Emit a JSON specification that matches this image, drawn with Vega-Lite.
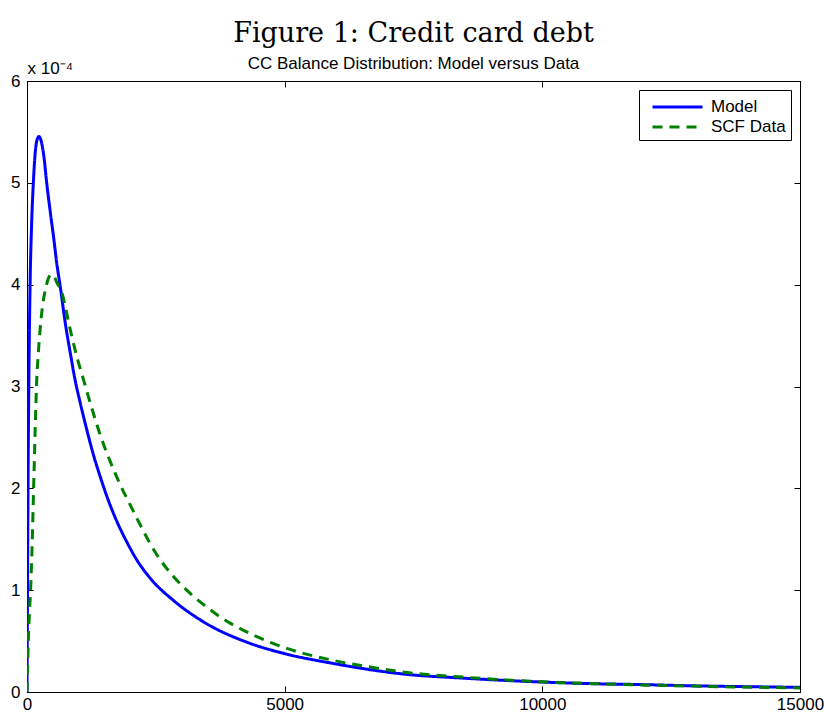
{
  "$schema": "https://vega.github.io/schema/vega-lite/v6.json",
  "width": 773,
  "height": 611,
  "autosize": {"type": "none"},
  "padding": {"left": 27, "top": 81, "right": 24, "bottom": 20},
  "background": "white",
  "title": {
    "text": "Figure 1: Credit card debt",
    "subtitle": "CC Balance Distribution: Model versus Data",
    "font": "DejaVu Serif",
    "fontSize": 27,
    "fontWeight": "normal",
    "color": "black",
    "subtitleFont": "Liberation Sans",
    "subtitleFontSize": 17,
    "subtitleColor": "black",
    "subtitlePadding": 8,
    "offset": -14,
    "anchor": "middle"
  },
  "config": {
    "view": {"stroke": "black", "strokeWidth": 1},
    "axis": {
      "grid": false,
      "domainColor": "black",
      "tickColor": "black",
      "tickSize": -6,
      "labelFont": "Liberation Sans",
      "labelFontSize": 17,
      "labelColor": "black",
      "titleFont": "Liberation Sans",
      "titleColor": "black",
      "titleFontWeight": "normal"
    },
    "legend": {
      "orient": "top-right",
      "offset": 9,
      "strokeColor": "black",
      "fillColor": "white",
      "padding": 5,
      "labelFont": "Liberation Sans",
      "labelFontSize": 17,
      "labelColor": "black",
      "labelOffset": 43,
      "symbolType": "M-0.333,0H4.43",
      "symbolSize": 441,
      "symbolStrokeWidth": 3,
      "rowPadding": 0
    }
  },
  "data": {
    "values": [
      {"series": "Model", "balance": 0, "density": 0},
      {"series": "Model", "balance": 10, "density": 1.0},
      {"series": "Model", "balance": 20, "density": 2.0},
      {"series": "Model", "balance": 35, "density": 3.0},
      {"series": "Model", "balance": 60, "density": 4.0},
      {"series": "Model", "balance": 90, "density": 4.6},
      {"series": "Model", "balance": 123, "density": 5.0},
      {"series": "Model", "balance": 160, "density": 5.3},
      {"series": "Model", "balance": 200, "density": 5.43},
      {"series": "Model", "balance": 233, "density": 5.455},
      {"series": "Model", "balance": 280, "density": 5.4},
      {"series": "Model", "balance": 330, "density": 5.25},
      {"series": "Model", "balance": 382, "density": 5.0},
      {"series": "Model", "balance": 450, "density": 4.72},
      {"series": "Model", "balance": 520, "density": 4.45},
      {"series": "Model", "balance": 580, "density": 4.2},
      {"series": "Model", "balance": 640, "density": 4.0},
      {"series": "Model", "balance": 750, "density": 3.6},
      {"series": "Model", "balance": 850, "density": 3.3},
      {"series": "Model", "balance": 931, "density": 3.07},
      {"series": "Model", "balance": 1028, "density": 2.85},
      {"series": "Model", "balance": 1158, "density": 2.58},
      {"series": "Model", "balance": 1300, "density": 2.31},
      {"series": "Model", "balance": 1417, "density": 2.12},
      {"series": "Model", "balance": 1580, "density": 1.88},
      {"series": "Model", "balance": 1740, "density": 1.68},
      {"series": "Model", "balance": 1930, "density": 1.48},
      {"series": "Model", "balance": 2128, "density": 1.3},
      {"series": "Model", "balance": 2387, "density": 1.12},
      {"series": "Model", "balance": 2840, "density": 0.9},
      {"series": "Model", "balance": 3421, "density": 0.69},
      {"series": "Model", "balance": 4262, "density": 0.49},
      {"series": "Model", "balance": 4975, "density": 0.38},
      {"series": "Model", "balance": 5945, "density": 0.28},
      {"series": "Model", "balance": 6850, "density": 0.205},
      {"series": "Model", "balance": 7240, "density": 0.18},
      {"series": "Model", "balance": 8500, "density": 0.135},
      {"series": "Model", "balance": 9990, "density": 0.098},
      {"series": "Model", "balance": 11120, "density": 0.08},
      {"series": "Model", "balance": 11700, "density": 0.075},
      {"series": "Model", "balance": 13000, "density": 0.06},
      {"series": "Model", "balance": 15000, "density": 0.046},
      {"series": "SCF Data", "balance": 0, "density": 0},
      {"series": "SCF Data", "balance": 25, "density": 0.5},
      {"series": "SCF Data", "balance": 50, "density": 0.8},
      {"series": "SCF Data", "balance": 72, "density": 1.03},
      {"series": "SCF Data", "balance": 100, "density": 1.45},
      {"series": "SCF Data", "balance": 136, "density": 2.15},
      {"series": "SCF Data", "balance": 160, "density": 2.6},
      {"series": "SCF Data", "balance": 188, "density": 3.05},
      {"series": "SCF Data", "balance": 220, "density": 3.33},
      {"series": "SCF Data", "balance": 285, "density": 3.72},
      {"series": "SCF Data", "balance": 380, "density": 4.0},
      {"series": "SCF Data", "balance": 430, "density": 4.08},
      {"series": "SCF Data", "balance": 478, "density": 4.1},
      {"series": "SCF Data", "balance": 530, "density": 4.08},
      {"series": "SCF Data", "balance": 580, "density": 4.02},
      {"series": "SCF Data", "balance": 673, "density": 3.93},
      {"series": "SCF Data", "balance": 770, "density": 3.72},
      {"series": "SCF Data", "balance": 870, "density": 3.49},
      {"series": "SCF Data", "balance": 980, "density": 3.27},
      {"series": "SCF Data", "balance": 1100, "density": 3.06},
      {"series": "SCF Data", "balance": 1250, "density": 2.8},
      {"series": "SCF Data", "balance": 1417, "density": 2.53},
      {"series": "SCF Data", "balance": 1610, "density": 2.27},
      {"series": "SCF Data", "balance": 1805, "density": 2.04},
      {"series": "SCF Data", "balance": 2000, "density": 1.84},
      {"series": "SCF Data", "balance": 2128, "density": 1.71},
      {"series": "SCF Data", "balance": 2387, "density": 1.46},
      {"series": "SCF Data", "balance": 2517, "density": 1.35},
      {"series": "SCF Data", "balance": 2850, "density": 1.13},
      {"series": "SCF Data", "balance": 3163, "density": 0.97},
      {"series": "SCF Data", "balance": 3421, "density": 0.86},
      {"series": "SCF Data", "balance": 3800, "density": 0.72},
      {"series": "SCF Data", "balance": 4262, "density": 0.59},
      {"series": "SCF Data", "balance": 4975, "density": 0.44},
      {"series": "SCF Data", "balance": 5945, "density": 0.31},
      {"series": "SCF Data", "balance": 6850, "density": 0.23},
      {"series": "SCF Data", "balance": 7240, "density": 0.2},
      {"series": "SCF Data", "balance": 8500, "density": 0.145},
      {"series": "SCF Data", "balance": 9990, "density": 0.1},
      {"series": "SCF Data", "balance": 11120, "density": 0.08},
      {"series": "SCF Data", "balance": 12500, "density": 0.062},
      {"series": "SCF Data", "balance": 15000, "density": 0.04}
    ]
  },
  "layer": [
    {
      "mark": {"type": "line", "strokeWidth": 3, "clip": true, "interpolate": "monotone"},
      "encoding": {
        "x": {
          "field": "balance",
          "type": "quantitative",
          "scale": {"domain": [0, 15000], "nice": false, "zero": false},
          "axis": {"orient": "bottom", "values": [0, 5000, 10000, 15000], "format": "d", "title": null, "labelPadding": 10, "labelFlush": false, "labelFontSize": 17}
        },
        "y": {
          "field": "density",
          "type": "quantitative",
          "scale": {"domain": [0, 6], "nice": false},
          "axis": {
            "orient": "left",
            "values": [0, 1, 2, 3, 4, 5, 6],
            "format": "d",
            "labelPadding": 13,
            "labelFontSize": 17,
            "labelFlush": false,
            "title": "x 10⁻⁴",
            "titleAngle": 0,
            "titleX": 0,
            "titleY": -8,
            "titleAlign": "left",
            "titleBaseline": "alphabetic",
            "titleFontSize": 17
          }
        },
        "color": {
          "field": "series",
          "type": "nominal",
          "scale": {"domain": ["Model", "SCF Data"], "range": ["#0000ff", "#008000"]},
          "legend": {"title": null}
        },
        "strokeDash": {
          "field": "series",
          "type": "nominal",
          "scale": {"domain": ["Model", "SCF Data"], "range": [[1, 0], [10, 7]]},
          "legend": {"title": null}
        }
      }
    },
    {
      "mark": {"type": "line", "opacity": 0},
      "encoding": {
        "x": {
          "field": "balance",
          "type": "quantitative",
          "axis": {"orient": "top", "values": [0, 5000, 10000, 15000], "labels": false, "title": null}
        },
        "y": {
          "field": "density",
          "type": "quantitative",
          "axis": {"orient": "right", "values": [0, 1, 2, 3, 4, 5, 6], "labels": false, "title": null}
        },
        "detail": {"field": "series"}
      }
    }
  ],
  "resolve": {"axis": {"x": "independent", "y": "independent"}}
}
